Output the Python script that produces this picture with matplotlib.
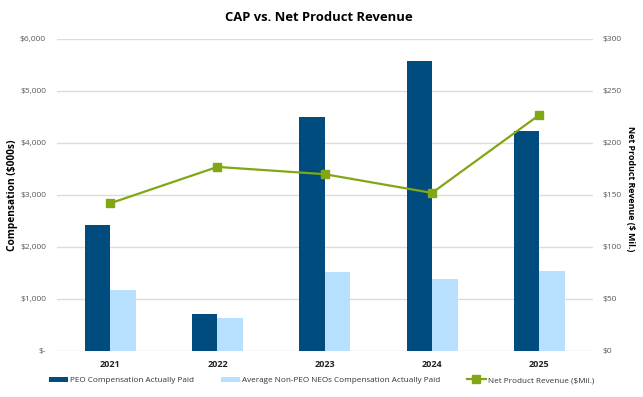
import numpy as np
import matplotlib.pyplot as plt
from matplotlib.ticker import FuncFormatter

plt.rcParams['font.family'] = ['Open Sans', 'DejaVu Sans']

years = ['2021', '2022', '2023', '2024', '2025']
peo_cap = [2430, 712, 4500, 5570, 4225]
non_peo_cap = [1173, 630, 1519, 1385, 1545]
net_revenue = [142, 177, 170, 152, 227]

dark_blue = '#004C7F'
light_blue = '#B7E0FF'
green = '#82A614'
grid_grey = '#DCDCDC'
tick_grey = '#595959'

fig = plt.figure(figsize=(6.43, 3.97), dpi=100)
ax = fig.add_axes([0.0879, 0.1159, 0.8343, 0.7859])
ax2 = ax.twinx()

x = np.arange(len(years))
w = 0.238
ax.bar(x - w / 2, peo_cap, w, color=dark_blue, label='PEO Compensation Actually Paid', zorder=2)
ax.bar(x + w / 2, non_peo_cap, w, color=light_blue,
       label='Average Non-PEO NEOs Compensation Actually Paid', zorder=2)
ax2.plot(x, net_revenue, color=green, linewidth=1.6, marker='s', markersize=6,
         label='Net Product Revenue ($Mil.)', zorder=3)

ax.set_xlim(-0.5, len(years) - 0.5)
ax.set_ylim(0, 6000)
ax.set_yticks(np.arange(0, 6001, 1000))
ax2.set_ylim(0, 300)
ax2.set_yticks(np.arange(0, 301, 50))

ax.yaxis.set_major_formatter(FuncFormatter(lambda v, p: '$-' if v == 0 else f'${v:,.0f}'))
ax2.yaxis.set_major_formatter(FuncFormatter(lambda v, p: f'${v:,.0f}'))

ax.set_xticks(x)
ax.set_xticklabels(years, fontsize=6.5, fontweight='bold', color='#222222')
ax.grid(axis='y', color=grid_grey, linewidth=1, zorder=0)
ax.set_axisbelow(True)

for a in (ax, ax2):
    for s in a.spines.values():
        s.set_visible(False)
    a.tick_params(length=0)
ax.tick_params(axis='y', labelsize=6.0, labelcolor=tick_grey, pad=7.5)
ax.tick_params(axis='x', pad=6.5)
ax2.tick_params(axis='y', labelsize=6.0, labelcolor=tick_grey, pad=6.5)

ax.set_ylabel('Compensation ($000s)', fontsize=7.3, fontweight='bold')
ax.yaxis.set_label_coords(-0.072, 0.5)
ax2.set_ylabel('Net Product Revenue ($ Mil.)', fontsize=6.4, fontweight='bold', rotation=-90)
ax2.yaxis.set_label_coords(1.079, 0.52)

fig.text(0.496, 0.955, 'CAP vs. Net Product Revenue', fontsize=9.4, fontweight='bold',
         ha='center', va='center')

h1, l1 = ax.get_legend_handles_labels()
h2, l2 = ax2.get_legend_handles_labels()
fig.legend(h1 + h2, l1 + l2, loc='center', bbox_to_anchor=(0.500, 0.042), ncol=3,
           frameon=False, fontsize=5.9, handlelength=2.3, handleheight=0.6,
           handletextpad=0.25, columnspacing=3.3, labelcolor='#333333')

fig.savefig('out.png', dpi=100)
